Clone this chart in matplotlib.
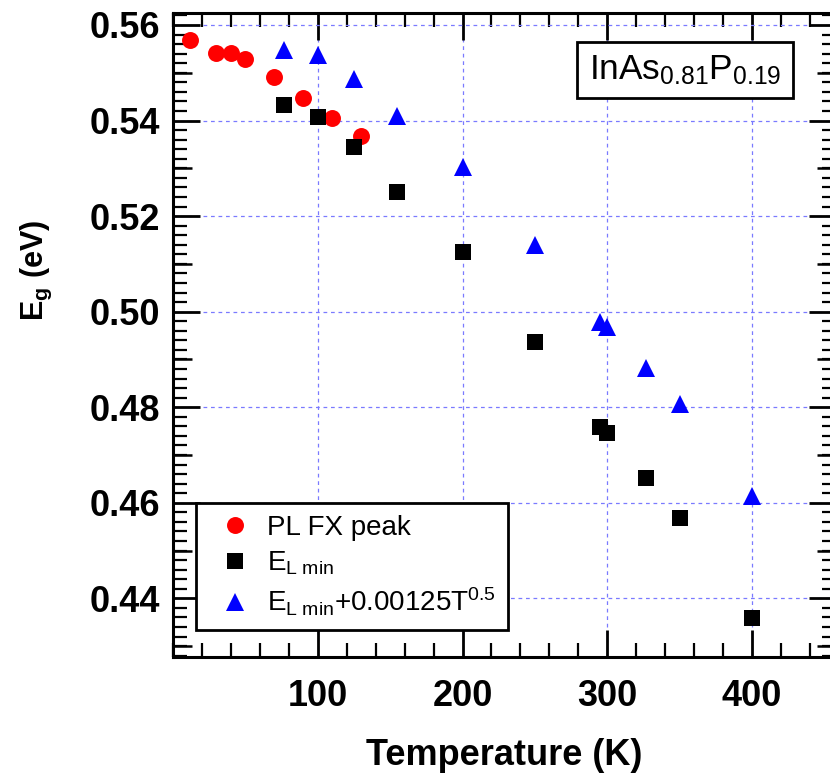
import matplotlib
matplotlib.use('Agg')
import matplotlib.pyplot as plt
from matplotlib.ticker import MultipleLocator, FixedLocator, NullFormatter
import numpy as np

plt.rcParams['font.family'] = ['Liberation Sans', 'DejaVu Sans']
plt.rcParams['mathtext.fontset'] = 'custom'
plt.rcParams['mathtext.rm'] = 'Liberation Sans'
plt.rcParams['mathtext.it'] = 'Liberation Sans:italic'
plt.rcParams['mathtext.bf'] = 'Liberation Sans:bold'

# ---- data ----
T_pl = [12, 30, 40, 50, 70, 90, 110, 130]
E_pl = [0.5569, 0.5542, 0.5541, 0.5529, 0.5491, 0.5447, 0.5406, 0.5368]

T_el = [77, 100, 125, 155, 200, 250, 295, 300, 327, 350, 400]
E_el = [0.5433, 0.5407, 0.5345, 0.5251, 0.5125, 0.4937, 0.4759, 0.4747,
        0.4651, 0.4569, 0.4359]
E_corr = [0.5548, 0.5537, 0.5486, 0.5410, 0.5303, 0.5139, 0.4979, 0.4967,
          0.4883, 0.4807, 0.4614]

labels = ['PL FX peak', r'E$_{\mathrm{L\ min}}$',
          r'E$_{\mathrm{L\ min}}$+0.00125T$^{0.5}$']
x_ticks = [100, 200, 300, 400]
y_ticks = [0.44, 0.46, 0.48, 0.50, 0.52, 0.54, 0.56]

W, H = 830, 777
fig = plt.figure(figsize=(W / 100, H / 100), dpi=100)
L, R, T, B = 173, 836, 13, 657
ax = fig.add_axes([L / W, 1 - B / H, (R - L) / W, (B - T) / H])

ax.plot(T_pl, E_pl, 'o', color='#ff0000', ms=12.2, mew=0, label=labels[0], zorder=3)
ax.plot(T_el, E_el, 's', color='black', ms=12.2, mew=0, label=labels[1], zorder=3)
ax.plot(T_el, E_corr, '^', color='#0000ff', ms=13.2, mew=0, label=labels[2], zorder=3)

ax.set_xlim(0, 458)
ax.set_ylim(0.42771, 0.56251)

ax.xaxis.set_major_locator(FixedLocator(x_ticks))
ax.xaxis.set_minor_locator(MultipleLocator(20))
ax.yaxis.set_major_locator(FixedLocator(y_ticks))
ax.yaxis.set_minor_locator(MultipleLocator(0.002))
ax.set_xticklabels([str(v) for v in x_ticks])
ax.set_yticklabels(['%.2f' % v for v in y_ticks])

ax.grid(True, which='major', color='#7a7aff', linestyle=(0, (3, 3)), linewidth=0.9)
ax.set_axisbelow(True)

ax.tick_params(which='both', direction='in', top=True, right=True)
ax.tick_params(which='major', length=19.5, width=2.0, labelsize=26, pad=9)
ax.tick_params(axis='x', which='major', pad=16)
ax.tick_params(which='minor', length=10, width=1.6)
for lab in ax.get_xticklabels() + ax.get_yticklabels():
    lab.set_fontweight('bold')
for s in ax.spines.values():
    s.set_linewidth(2.2)

# medium ticks at odd 0.01 multiples
mid = [0.43, 0.45, 0.47, 0.49, 0.51, 0.53, 0.55]
for side in ('left', 'right'):
    sec = ax.secondary_yaxis(side)
    sec.yaxis.set_major_locator(FixedLocator(mid))
    sec.yaxis.set_major_formatter(NullFormatter())
    sec.tick_params(direction='in', length=14, width=1.8)
    sec.spines[side].set_visible(False)

ax.set_xlabel('Temperature (K)', fontsize=26, fontweight='bold', labelpad=17)
ax.set_ylabel(r'E$_\mathbf{g}$ (eV)', fontsize=22, fontweight='bold')
ax.yaxis.set_label_coords(-0.18, 0.60)

leg = ax.legend(loc='lower left', bbox_to_anchor=(0.034, 0.042), fontsize=20,
                frameon=True, fancybox=False, edgecolor='black', framealpha=1,
                numpoints=1, handlelength=2.0, handletextpad=0.15,
                labelspacing=0.32, borderpad=0.42, borderaxespad=0)
leg.get_frame().set_linewidth(2.0)

ax.text(0.772, 0.9115, r'InAs$_{0.81}$P$_{0.19}$', transform=ax.transAxes,
        fontsize=25.4, ha='center', va='center',
        bbox=dict(boxstyle='square,pad=0.33', facecolor='white',
                  edgecolor='black', linewidth=2.0))

fig.savefig('out.png', dpi=100)
